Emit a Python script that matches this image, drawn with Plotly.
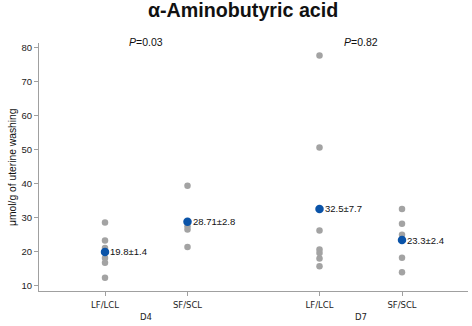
import plotly.graph_objects as go

title = "α-Aminobutyric acid"
cat_labels = ["LF/LCL", "SF/SCL", "LF/LCL", "SF/SCL"]
cat_pos = [1, 2, 3.6, 4.6]
day_labels = ["D4", "D7"]
day_pos = [1.5, 4.1]
p_labels = ["<i>P</i>=0.03", "<i>P</i>=0.82"]

d4_lf = [28.5, 23.2, 21.0, 18.0, 16.6, 12.2]
d4_sf = [39.3, 27.4, 26.4, 21.3]
d7_lf = [77.7, 50.6, 26.1, 20.5, 19.5, 17.9, 15.6]
d7_sf = [32.5, 28.1, 24.9, 18.1, 13.8]
groups = [d4_lf, d4_sf, d7_lf, d7_sf]

means = [19.8, 28.71, 32.5, 23.3]
sems = [1.4, 2.8, 7.7, 2.4]
mean_text = ["19.8±1.4", "28.71±2.8", "32.5±7.7", "23.3±2.4"]

yticks = [10, 20, 30, 40, 50, 60, 70, 80]

fig = go.Figure()
gx, gy = [], []
for p, vals in zip(cat_pos, groups):
    gx += [p] * len(vals)
    gy += vals
fig.add_trace(go.Scatter(x=gx, y=gy, mode="markers",
                         marker=dict(color="#a3a3a3", size=6.5), showlegend=False,
                         hoverinfo="skip"))
fig.add_trace(go.Scatter(x=cat_pos, y=means, mode="markers",
                         marker=dict(color="#0a53a8", size=8.5), showlegend=False,
                         hoverinfo="skip"))

annotations = []
for p, m, t in zip(cat_pos, means, mean_text):
    annotations.append(dict(x=p, y=m, xref="x", yref="y", text=t, showarrow=False,
                            xanchor="left", yanchor="middle", xshift=3,
                            font=dict(family="Liberation Sans, Arial", size=9.5, color="#111")))
for p, t in zip(day_pos, day_labels):
    annotations.append(dict(x=p, y=-0.106, xref="x", yref="paper", text=t, showarrow=False,
                            xanchor="center", yanchor="middle",
                            font=dict(family="DejaVu Sans", size=8.5, color="#222")))
for p, t in zip(day_pos, p_labels):
    annotations.append(dict(x=p, y=1.005, xref="x", yref="paper", text=t, showarrow=False,
                            xanchor="center", yanchor="middle",
                            font=dict(family="Liberation Sans, Arial", size=10.5, color="#111")))
annotations.append(dict(x=-0.063, y=0.5, xref="paper", yref="paper",
                        text="μmol/g of uterine washing", showarrow=False, textangle=-90,
                        xanchor="center", yanchor="middle",
                        font=dict(family="Liberation Sans, Arial", size=10.3, color="#111")))

fig.update_layout(
    width=472, height=326,
    margin=dict(l=39, r=4, t=43, b=35),
    paper_bgcolor="white", plot_bgcolor="white",
    title=dict(text="<b>" + title + "</b>", x=0.515, xanchor="center", y=0.969, yanchor="middle",
               font=dict(family="Liberation Sans, Arial", size=19.7, color="#111")),
    annotations=annotations,
    hovermode=False,
)
fig.update_xaxes(range=[0.2, 5.4], tickmode="array", tickvals=cat_pos, ticktext=cat_labels,
                 showgrid=False, zeroline=False, showline=True, linecolor="#a0a0a0", linewidth=1,
                 ticks="outside", ticklen=4, tickcolor="#a0a0a0", ticklabelstandoff=2,
                 tickfont=dict(family="DejaVu Sans", size=8.5, color="#222"))
fig.update_yaxes(range=[8.3, 81.4], tickmode="array", tickvals=yticks,
                 showgrid=False, zeroline=False, showline=True, linecolor="#a0a0a0", linewidth=1,
                 ticks="outside", ticklen=4, tickcolor="#a0a0a0",
                 tickfont=dict(family="Liberation Sans, Arial", size=9.5, color="#222"))

fig.write_html("out.html", config={"displayModeBar": False, "staticPlot": True},
               post_script="document.body.style.margin='0px';document.body.style.overflow='hidden';")
